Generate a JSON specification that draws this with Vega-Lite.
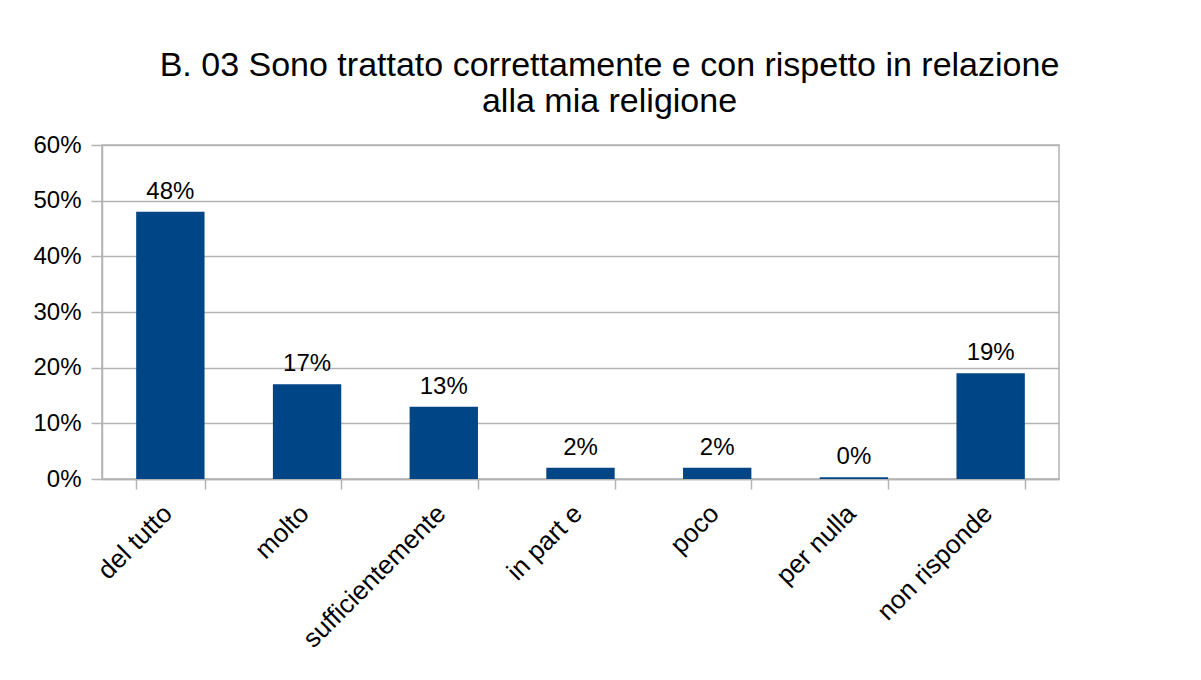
{
  "$schema": "https://vega.github.io/schema/vega-lite/v6.json",
  "autosize": {"type": "none"},
  "width": 957,
  "height": 334,
  "padding": {"left": 102, "top": 145, "right": 142, "bottom": 201},
  "background": "white",
  "config": {
    "font": "Liberation Sans",
    "view": {"stroke": "#b3b3b3", "strokeWidth": 1.5}
  },
  "title": {
    "text": ["B. 03 Sono trattato correttamente e con rispetto in relazione", "alla mia religione"],
    "fontSize": 34,
    "fontWeight": "normal",
    "color": "#000000",
    "font": "Liberation Sans",
    "lineHeight": 36,
    "anchor": "middle",
    "dx": 29,
    "offset": 14
  },
  "data": {
    "values": [
      {"risposta": "del tutto", "valore": 0.48},
      {"risposta": "molto", "valore": 0.17},
      {"risposta": "sufficientemente", "valore": 0.13},
      {"risposta": "in part e", "valore": 0.02},
      {"risposta": "poco", "valore": 0.02},
      {"risposta": "per nulla", "valore": 0.003},
      {"risposta": "non risponde", "valore": 0.19}
    ]
  },
  "encoding": {
    "x": {
      "field": "risposta",
      "type": "nominal",
      "sort": null,
      "scale": {"paddingInner": 0.5, "paddingOuter": 0.25},
      "axis": {
        "title": null,
        "labelAngle": -45,
        "labelAlign": "right",
        "labelBaseline": "top",
        "labelFontSize": 26,
        "labelColor": "#000000",
        "labelPadding": 11,
        "labelOffset": -12,
        "labelLimit": 400,
        "tickBand": "extent",
        "tickSize": 10,
        "tickColor": "#b3b3b3",
        "tickWidth": 1.5,
        "domainColor": "#b3b3b3",
        "domainWidth": 1.5
      }
    },
    "y": {
      "field": "valore",
      "type": "quantitative",
      "scale": {"domain": [0, 0.6], "nice": false},
      "axis": {
        "title": null,
        "format": ".0%",
        "values": [0, 0.1, 0.2, 0.3, 0.4, 0.5, 0.6],
        "labelFontSize": 24,
        "labelColor": "#000000",
        "labelPadding": 10,
        "tickSize": 11,
        "tickColor": "#b3b3b3",
        "tickWidth": 1.5,
        "domainColor": "#b3b3b3",
        "domainWidth": 1.5,
        "gridColor": "#b3b3b3",
        "gridWidth": 1.5
      }
    }
  },
  "layer": [
    {"mark": {"type": "bar", "color": "#004586"}},
    {
      "mark": {"type": "text", "baseline": "alphabetic", "dy": -13, "fontSize": 24, "color": "#000000"},
      "encoding": {"text": {"field": "valore", "type": "quantitative", "format": ".0%"}}
    }
  ]
}
